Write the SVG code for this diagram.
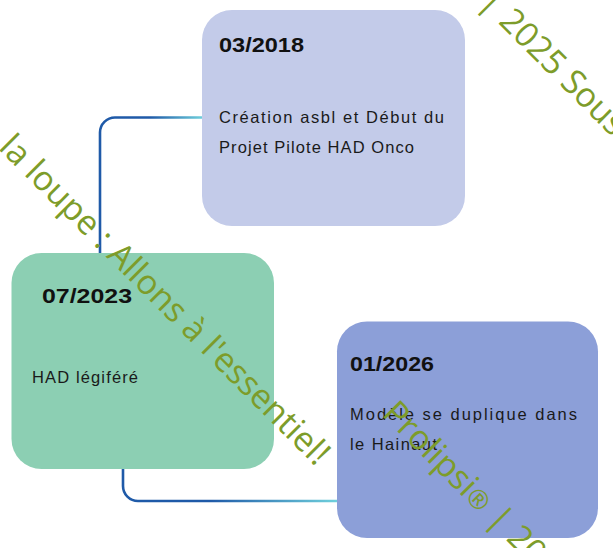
<svg xmlns="http://www.w3.org/2000/svg" width="613" height="548" viewBox="0 0 613 548">
<style>
.date{font-family:"Liberation Sans",Arial,sans-serif;font-weight:bold;font-size:20px;fill:#111}
.body{font-family:"Liberation Sans",Arial,sans-serif;font-size:16.5px;fill:#1a1a1a}
.wm{font-family:"Open Sans","DejaVu Sans",sans-serif;font-size:34px;fill:#7d9c2a}
.conn{fill:none;stroke-width:2.6;stroke-linecap:round}
</style>
<defs>
<linearGradient id="g1" gradientUnits="userSpaceOnUse" x1="150" y1="0" x2="203" y2="0">
<stop offset="0" stop-color="#1f5aa8"/><stop offset="1" stop-color="#6fd0dc"/>
</linearGradient>
<linearGradient id="g2" gradientUnits="userSpaceOnUse" x1="210" y1="0" x2="337" y2="0">
<stop offset="0" stop-color="#1f5aa8"/><stop offset="1" stop-color="#6fd0dc"/>
</linearGradient>
</defs>
<rect width="613" height="548" fill="#fff"/>
<g id="connectors">
<path class="conn" stroke="url(#g1)" d="M203 117.5 H115 A15 15 0 0 0 100 132.5 V253"/>
<path class="conn" stroke="url(#g2)" d="M123 469 V486 A15 15 0 0 0 138 501 H337"/>
</g>
<g id="node-2018">
<rect x="202" y="10" width="263" height="216" rx="30" fill="#c3cbe9"/>
<text class="date" x="219" y="52" textLength="85" lengthAdjust="spacingAndGlyphs">03/2018</text>
<text class="body" x="219" y="123" textLength="225" lengthAdjust="spacing">Création asbl et Début du</text>
<text class="body" x="219" y="153" textLength="195" lengthAdjust="spacing">Projet Pilote HAD Onco</text>
</g>
<g id="node-2023">
<rect x="11.5" y="253" width="262.5" height="216" rx="30" fill="#8ccfb3"/>
<text class="date" x="42" y="303" textLength="90" lengthAdjust="spacingAndGlyphs">07/2023</text>
<text class="body" x="32" y="383" textLength="106" lengthAdjust="spacing">HAD légiféré</text>
</g>
<g id="node-2026">
<rect x="337" y="321.5" width="261" height="216.5" rx="30" fill="#8c9fd8"/>
<text class="date" x="350" y="371" textLength="84" lengthAdjust="spacingAndGlyphs">01/2026</text>
<text class="body" x="350" y="420" textLength="227" lengthAdjust="spacing">Modèle se duplique dans</text>
<text class="body" x="350" y="450" textLength="87" lengthAdjust="spacing">le Hainaut</text>
</g>
<g id="watermark">
<text class="wm" text-anchor="end" font-size="35" transform="translate(316 467) rotate(45)">la loupe : Allons à l'essentiel!</text>
<text class="wm" transform="translate(478 3) rotate(45)">| 2025 Sous la loupe</text>
<text class="wm" transform="translate(381 415) rotate(45)">Prolipsi<tspan font-size="26">®</tspan> | 2025 Sous</text>
</g>
</svg>
